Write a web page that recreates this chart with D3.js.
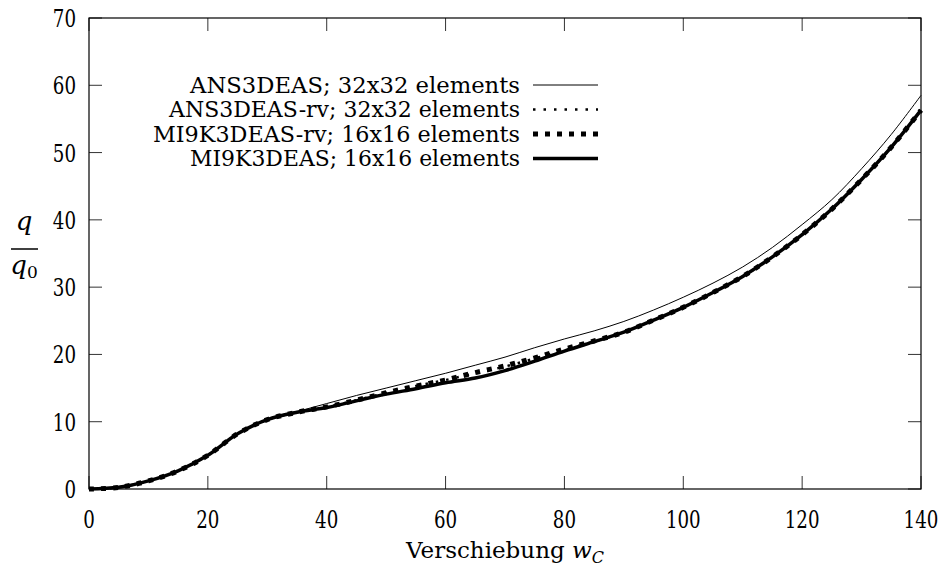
<!DOCTYPE html>
<html>
<head>
<meta charset="utf-8">
<script src="https://cdn.jsdelivr.net/npm/d3@7"></script>
<style>
  html, body { margin: 0; padding: 0; background: #fff; }
  svg { display: block; }
  text { font-family: "DejaVu Serif", serif; fill: #000; }
</style>
</head>
<body>
<svg id="chart" width="943" height="572"></svg>
<script>
// ---- data ----
const xValues = [0, 5, 10, 15, 20, 25, 30, 35, 40, 45, 50, 55, 60, 65, 70, 75, 80, 85, 90, 95, 100, 105, 110, 115, 120, 125, 130, 135, 140];
const ans3deas32 = [0, 0.25, 1.2, 2.7, 5.0, 8.2, 10.3, 11.5, 12.7, 13.9, 15.0, 16.1, 17.2, 18.4, 19.6, 21.0, 22.3, 23.5, 24.9, 26.6, 28.5, 30.6, 33.0, 35.9, 39.3, 43.0, 47.6, 52.7, 58.5];
const ans3deasRv32 = [0, 0.25, 1.2, 2.7, 5.0, 8.2, 10.3, 11.4, 12.2, 13.2, 14.3, 15.3, 16.2, 17.2, 18.2, 19.4, 20.7, 21.9, 23.3, 25.1, 27.0, 29.2, 31.6, 34.5, 37.8, 41.6, 46.0, 50.8, 56.3];
const mi9kRv16 = [0, 0.25, 1.2, 2.7, 5.0, 8.2, 10.3, 11.4, 12.2, 13.2, 14.3, 15.3, 16.2, 17.3, 18.3, 19.5, 20.8, 22.0, 23.3, 25.1, 27.0, 29.2, 31.6, 34.5, 37.8, 41.6, 46.0, 50.8, 56.3];
const mi9k16 = [0, 0.25, 1.2, 2.7, 5.0, 8.2, 10.3, 11.4, 12.1, 13.1, 14.1, 14.9, 15.8, 16.5, 17.6, 19.0, 20.5, 21.9, 23.3, 25.1, 27.0, 29.2, 31.6, 34.5, 37.8, 41.6, 46.0, 50.8, 56.3];
const seriesNames = ["ANS3DEAS; 32x32 elements", "ANS3DEAS-rv; 32x32 elements", "MI9K3DEAS-rv; 16x16 elements", "MI9K3DEAS; 16x16 elements"];
const xTicks = [0, 20, 40, 60, 80, 100, 120, 140];
const yTicks = [0, 10, 20, 30, 40, 50, 60, 70];

// ---- layout ----
const svg = d3.select("#chart");
const L = 89, R = 921, T = 18, B = 489;
const x = d3.scaleLinear().domain([0, 140]).range([L, R]);
const y = d3.scaleLinear().domain([0, 70]).range([B, T]);

const styles = [
  { width: 1, dash: null },
  { width: 2.5, dash: "2.5,8" },
  { width: 5, dash: "5,7" },
  { width: 3.5, dash: null }
];
const seriesData = [ans3deas32, ans3deasRv32, mi9kRv16, mi9k16];

// ticks (inward, all four sides)
const tickLen = 13;
const g = svg.append("g");
xTicks.forEach(v => {
  g.append("line").attr("x1", x(v)).attr("x2", x(v)).attr("y1", B).attr("y2", B - tickLen)
    .attr("stroke", "#333").attr("stroke-width", 1);
  g.append("line").attr("x1", x(v)).attr("x2", x(v)).attr("y1", T).attr("y2", T + tickLen)
    .attr("stroke", "#333").attr("stroke-width", 1);
});
yTicks.forEach(v => {
  g.append("line").attr("x1", L).attr("x2", L + tickLen).attr("y1", y(v)).attr("y2", y(v))
    .attr("stroke", "#333").attr("stroke-width", 1);
  g.append("line").attr("x1", R).attr("x2", R - tickLen).attr("y1", y(v)).attr("y2", y(v))
    .attr("stroke", "#333").attr("stroke-width", 1);
});

// tick labels (narrow, tall digits like the original)
function stretchedText(px, py, str, size, anchor, sx, sy) {
  return svg.append("text")
    .attr("transform", `translate(${px},${py}) scale(${sx},${sy})`)
    .attr("font-size", size).attr("text-anchor", anchor).text(str);
}
xTicks.forEach(v => stretchedText(x(v), 528, String(v), 24, "middle", 0.76, 1.0));
yTicks.forEach(v => stretchedText(76, y(v) + 9, String(v), 24, "end", 0.76, 1.0));

// series
const line = d3.line()
  .x((d, i) => x(xValues[i]))
  .y(d => y(d))
  .curve(d3.curveCatmullRom.alpha(0.5));

const plotG = svg.append("g");
seriesData.forEach((s, k) => {
  plotG.append("path")
    .attr("d", line(s))
    .attr("fill", "none")
    .attr("stroke", "#000")
    .attr("stroke-width", styles[k].width)
    .attr("stroke-dasharray", styles[k].dash)
    .attr("stroke-linejoin", "round");
});

// frame
svg.append("rect").attr("x", L).attr("y", T).attr("width", R - L).attr("height", B - T)
  .attr("fill", "none").attr("stroke", "#000").attr("stroke-width", 1.2);

// legend
const legendRows = [85, 109.5, 134, 158.5];
const legendWidths = [330, 351, 367, 330];
seriesNames.forEach((name, k) => {
  svg.append("text").attr("x", 520).attr("y", legendRows[k] + 7.5)
    .attr("font-size", 22).attr("text-anchor", "end")
    .attr("textLength", legendWidths[k]).attr("lengthAdjust", "spacingAndGlyphs")
    .text(name);
  svg.append("line").attr("x1", 533).attr("x2", 598)
    .attr("y1", legendRows[k]).attr("y2", legendRows[k])
    .attr("stroke", "#000").attr("stroke-width", styles[k].width)
    .attr("stroke-dasharray", styles[k].dash);
});

// x axis title
const xt = svg.append("text").attr("x", 505).attr("y", 558).attr("font-size", 23).attr("text-anchor", "middle");
xt.append("tspan").text("Verschiebung ");
xt.append("tspan").attr("font-style", "italic").text("w");
xt.append("tspan").attr("font-style", "italic").attr("font-size", 16).attr("dy", 5).text("C");

// y axis title (fraction q / q0)
svg.append("text").attr("x", 24).attr("y", 230).attr("font-size", 26).attr("font-style", "italic")
  .attr("text-anchor", "middle").text("q");
svg.append("line").attr("x1", 11).attr("x2", 38).attr("y1", 249).attr("y2", 249)
  .attr("stroke", "#000").attr("stroke-width", 1.5);
const q0 = svg.append("text").attr("x", 24).attr("y", 274).attr("font-size", 26).attr("text-anchor", "middle");
q0.append("tspan").attr("font-style", "italic").text("q");
q0.append("tspan").attr("font-size", 17).attr("dy", 4).text("0");
</script>
</body>
</html>
